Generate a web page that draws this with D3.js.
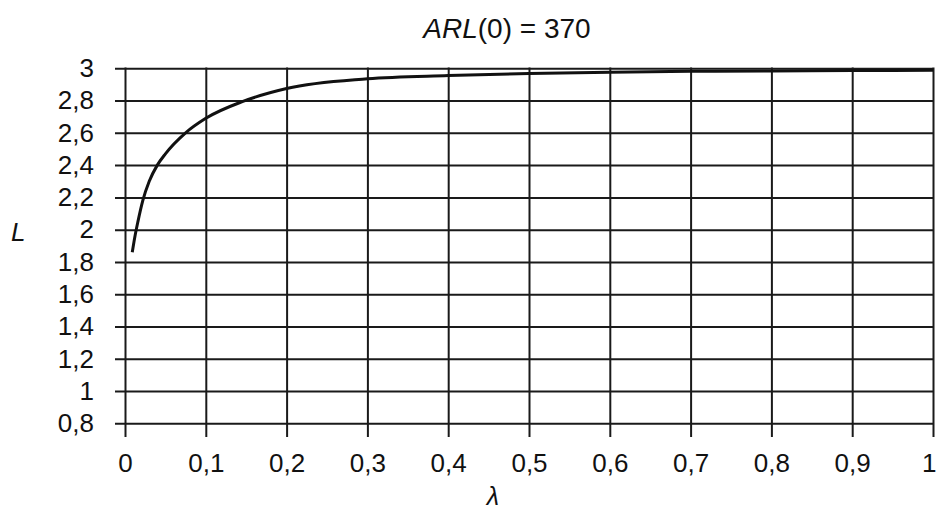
<!DOCTYPE html>
<html>
<head>
<meta charset="utf-8">
<script src="https://cdn.jsdelivr.net/npm/d3@7"></script>
<style>
  body { margin: 0; background: #fff; }
  svg text { font-family: "Liberation Sans", Arial, sans-serif; fill: #111; }
</style>
</head>
<body>
<svg id="chart" width="936" height="514"></svg>
<script>
// curve
const lambdaVals = [0.009, 0.012, 0.016, 0.022, 0.03, 0.04, 0.05, 0.075, 0.1, 0.146, 0.2, 0.3, 0.4, 0.5, 0.6, 0.7, 0.8, 0.9, 1.0];
const lVals      = [1.86, 1.95, 2.05, 2.18, 2.3, 2.4, 2.47, 2.6, 2.69, 2.795, 2.875, 2.935, 2.955, 2.968, 2.976, 2.981, 2.984, 2.986, 2.988];

const xTicks = [0, 0.1, 0.2, 0.3, 0.4, 0.5, 0.6, 0.7, 0.8, 0.9, 1];
const yTicks = [0.8, 1, 1.2, 1.4, 1.6, 1.8, 2, 2.2, 2.4, 2.6, 2.8, 3];

const titleText = "= 370";

let svg = d3.select("#chart");
const loc = d3.formatLocale({ decimal: ",", thousands: ".", grouping: [3], currency: ["", ""] });
const fmt = loc.format("~g");

let x = d3.scaleLinear().domain([0, 1]).range([125, 933]);
let y = d3.scaleLinear().domain([0.8, 3]).range([423.3, 68.3]);

// vertical grid + bottom labels
let xAxis = svg.append("g")
    .attr("transform", "translate(0,437)")
    .call(d3.axisBottom(x).tickValues(xTicks).tickFormat(fmt)
        .tickSize(-(437 - 67.5)).tickSizeOuter(0).tickPadding(17));
xAxis.select(".domain").remove();
xAxis.selectAll("line").attr("stroke", "#1a1a1a").attr("stroke-width", 2);
xAxis.selectAll("text").style("font-size", "26px").attr("fill", "#111")
    .attr("text-anchor", d => d == 1 ? "end" : "middle")
    .attr("x", d => d == 1 ? 3 : 0);

// horizontal grid + left labels
let yAxis = svg.append("g")
    .attr("transform", "translate(115,0)")
    .call(d3.axisLeft(y).tickValues(yTicks).tickFormat(fmt)
        .tickSize(-(933 - 115)).tickSizeOuter(0).tickPadding(21));
yAxis.select(".domain").remove();
yAxis.selectAll("line").attr("stroke", "#1a1a1a").attr("stroke-width", 2);
yAxis.selectAll("text").style("font-size", "26px").attr("fill", "#111");

// curve
let pts = lambdaVals.map((d, i) => [d, lVals[i]]);
svg.append("path")
    .datum(pts)
    .attr("fill", "none")
    .attr("stroke", "#111")
    .attr("stroke-width", 3)
    .attr("d", d3.line().x(d => x(d[0])).y(d => y(d[1])).curve(d3.curveMonotoneX));

// title
let t = svg.append("text")
    .attr("x", 507).attr("y", 38)
    .attr("text-anchor", "middle")
    .style("font-size", "28px");
t.append("tspan").attr("font-style", "italic").text("ARL");
t.append("tspan").text("(0) " + titleText);

// axis titles
svg.append("text")
    .attr("x", 493).attr("y", 505)
    .attr("text-anchor", "middle")
    .attr("font-style", "italic")
    .style("font-size", "25px")
    .text("λ");

svg.append("text")
    .attr("x", 11).attr("y", 241)
    .attr("font-style", "italic")
    .style("font-size", "26px")
    .text("L");
</script>
</body>
</html>
